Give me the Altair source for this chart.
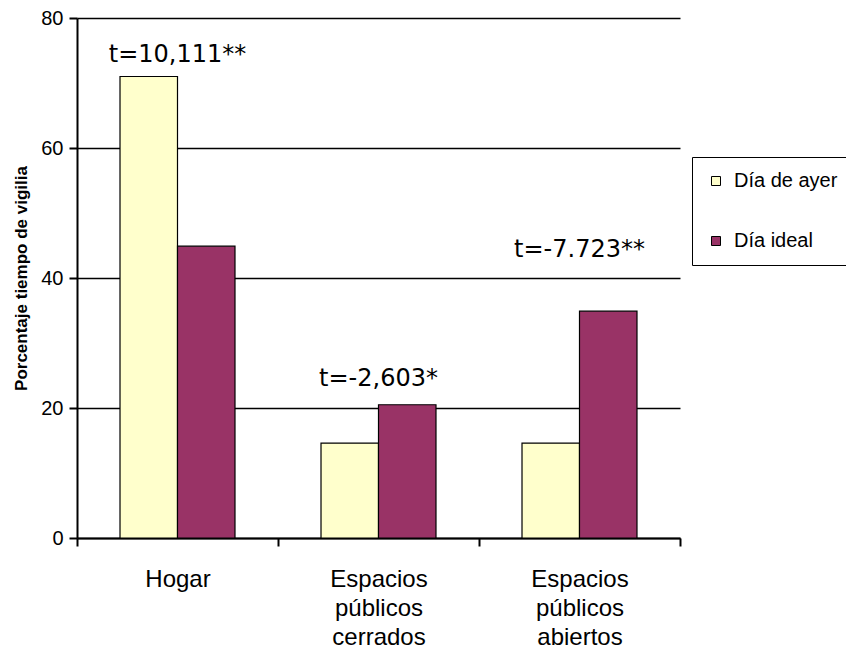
import altair as alt
import pandas as pd

categories = ["Hogar", "Espacios públicos cerrados", "Espacios públicos abiertos"]
series = ["Día de ayer", "Día ideal"]
ayer = [71.0, 14.6, 14.6]
ideal = [44.9, 20.5, 34.9]
t_labels = ["t=10,111**", "t=-2,603*", "t=-7.723**"]
t_y = [73.2, 23.4, 43.2]
colors = ["#FFFFCC", "#993366"]
y_ticks = [0, 20, 40, 60, 80]

rows = []
for c, a, i in zip(categories, ayer, ideal):
    rows.append({"cat": c, "serie": series[0], "valor": a})
    rows.append({"cat": c, "serie": series[1], "valor": i})
df = pd.DataFrame(rows)
ann = pd.DataFrame({"cat": categories, "label": t_labels, "y": t_y})

FONT = "Liberation Sans"
xscale = alt.Scale(domain=categories, paddingInner=0, paddingOuter=0)
yscale = alt.Scale(domain=[0, 80])

x_axis = alt.Axis(title=None, labelAngle=0, tickBand="extent",
                  labelExpr="datum.value ? split(datum.value, ' ') : ''",
                  labelFontSize=24, labelLineHeight=29, labelPadding=40,
                  labelBaseline="alphabetic", tickSize=8, grid=False,
                  domainColor="black", tickColor="black",
                  domainWidth=2, tickWidth=2, labelColor="black",
                  labelFont=FONT)
y_axis = alt.Axis(values=y_ticks, title="Porcentaje tiempo de vigilia",
                  titleFontSize=17, titleFontWeight="bold", titleFont=FONT,
                  titleColor="black", titlePadding=10,
                  labelFontSize=20, labelFont=FONT, labelColor="black",
                  labelPadding=6, tickSize=8, tickColor="black", tickWidth=2,
                  domainColor="black", domainWidth=2,
                  grid=True, gridColor="black", gridWidth=1.5, gridOpacity=1)

bars = alt.Chart(df).mark_bar(stroke="black", strokeWidth=1.2).encode(
    x=alt.X("cat:N", scale=xscale, sort=categories, axis=x_axis),
    xOffset=alt.XOffset("serie:N", scale=alt.Scale(domain=series, paddingInner=0, paddingOuter=0.748), sort=series),
    y=alt.Y("valor:Q", scale=yscale, axis=y_axis),
    color=alt.Color("serie:N", scale=alt.Scale(domain=series, range=colors),
                    legend=alt.Legend(title=None, orient="none", legendX=615, legendY=139,
                                      symbolType="square", symbolSize=81,
                                      symbolStrokeColor="black", symbolStrokeWidth=1,
                                      labelFontSize=20, labelFont=FONT, labelColor="black",
                                      labelOffset=8, rowPadding=40, padding=14,
                                      strokeColor="black", fillColor="white",
                                      labelLimit=300)),
)

text = alt.Chart(ann).mark_text(fontSize=24, font="DejaVu Sans", baseline="alphabetic", color="black").encode(
    x=alt.X("cat:N", scale=xscale, sort=categories, axis=x_axis),
    y=alt.Y("y:Q", scale=yscale, axis=y_axis),
    text="label:N",
)

chart = alt.layer(bars, text).properties(
    width=603, height=520,
    autosize=alt.AutoSizeParams(type="none"),
    padding={"left": 69, "top": 10, "right": 166, "bottom": 110},
).configure_view(stroke=None)

chart.save("out.html", embed_options={"renderer": "svg", "actions": False})
